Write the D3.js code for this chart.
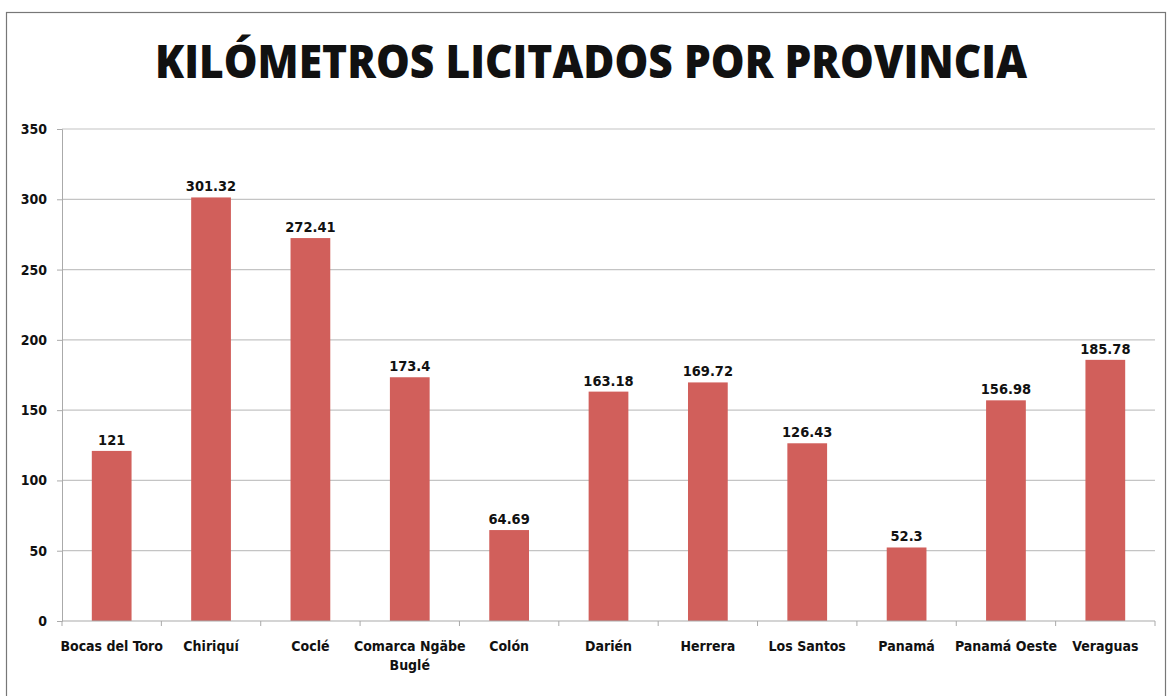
<!DOCTYPE html>
<html>
<head>
<meta charset="utf-8">
<script src="https://cdn.jsdelivr.net/npm/d3@7"></script>
<style>
  body { margin: 0; background: #fff; }
  svg text { font-family: "Liberation Sans Narrow", "DejaVu Sans Condensed", "Roboto", sans-serif; font-weight: bold; fill: #111; }
</style>
</head>
<body>
<svg id="canvas" width="1171" height="696"></svg>
<script>
const provincias = ["Bocas del Toro", "Chiriquí", "Coclé", "Comarca Ngäbe Buglé", "Colón",
  "Darién", "Herrera", "Los Santos", "Panamá", "Panamá Oeste", "Veraguas"];
const kilometros = [121, 301.32, 272.41, 173.4, 64.69, 163.18, 169.72, 126.43, 52.3, 156.98, 185.78];
const yTicks = [0, 50, 100, 150, 200, 250, 300, 350];
const titulo = "KILÓMETROS LICITADOS POR PROVINCIA";

const svg = d3.select("#canvas");
const plotLeft = 62, plotRight = 1155, plotTop = 129, plotBottom = 621;

// frame
svg.append("rect")
  .attr("x", 6.5).attr("y", 12.5)
  .attr("width", 1159).attr("height", 690)
  .attr("fill", "none").attr("stroke", "#777").attr("stroke-width", 1.2);

svg.append("text")
  .attr("x", 591).attr("y", 78)
  .attr("text-anchor", "middle")
  .attr("textLength", 872)
  .attr("lengthAdjust", "spacingAndGlyphs")
  .style("font-family", "'Open Sans', 'DejaVu Sans', sans-serif")
  .style("font-weight", 800)
  .style("font-size", "46px")
  .text(titulo);

const x = d3.scaleBand().domain(provincias).range([plotLeft, plotRight]).paddingInner(0.6).paddingOuter(0.3);
const y = d3.scaleLinear().domain([0, 350]).range([plotBottom, plotTop]);

// grid
svg.append("g")
  .selectAll("line")
  .data(yTicks.slice(1))
  .enter()
  .append("line")
  .attr("x1", plotLeft).attr("x2", plotRight)
  .attr("y1", (d) => y(d)).attr("y2", (d) => y(d))
  .attr("stroke", "#c4c4c4").attr("stroke-width", 1.2);

// y axis
const yAxis = svg.append("g")
  .attr("transform", `translate(${plotLeft},0)`)
  .call(d3.axisLeft(y).tickValues(yTicks).tickSize(5).tickPadding(10));
yAxis.selectAll("path, line").attr("stroke", "#aaa");
yAxis.selectAll("text").style("font-size", "14px");

// bars
svg.append("g")
  .selectAll("rect")
  .data(provincias)
  .enter()
  .append("rect")
  .attr("x", (d) => x(d))
  .attr("width", x.bandwidth())
  .attr("y", (d, i) => y(kilometros[i]))
  .attr("height", (d, i) => plotBottom - y(kilometros[i]))
  .attr("fill", "#d15f5b");

// value labels
svg.append("g")
  .selectAll("text")
  .data(provincias)
  .enter()
  .append("text")
  .attr("x", (d) => x(d) + x.bandwidth() / 2)
  .attr("y", (d, i) => y(kilometros[i]) - 6)
  .attr("text-anchor", "middle")
  .style("font-size", "14.5px")
  .text((d, i) => kilometros[i]);

// x axis
const step = x.step();
const xAxis = svg.append("g").attr("transform", `translate(0,${plotBottom})`);
xAxis.append("line").attr("x1", plotLeft).attr("x2", plotRight).attr("stroke", "#aaa").attr("stroke-width", 1.2);
xAxis.selectAll(".tk")
  .data(d3.range(provincias.length + 1))
  .enter()
  .append("line")
  .attr("x1", (i) => plotLeft + i * step).attr("x2", (i) => plotLeft + i * step)
  .attr("y1", 0).attr("y2", 5)
  .attr("stroke", "#aaa");

const labels = xAxis.selectAll(".lbl")
  .data(provincias)
  .enter()
  .append("text")
  .attr("text-anchor", "middle")
  .attr("x", (d) => x(d) + x.bandwidth() / 2)
  .attr("y", 30)
  .style("font-size", "14px");
labels.each(function (d) {
  const t = d3.select(this);
  const lines = d === "Comarca Ngäbe Buglé" ? ["Comarca Ngäbe", "Buglé"] : [d];
  lines.forEach((l, k) => {
    t.append("tspan").attr("x", x(d) + x.bandwidth() / 2).attr("dy", k ? 19 : 0).text(l);
  });
});
</script>
</body>
</html>
